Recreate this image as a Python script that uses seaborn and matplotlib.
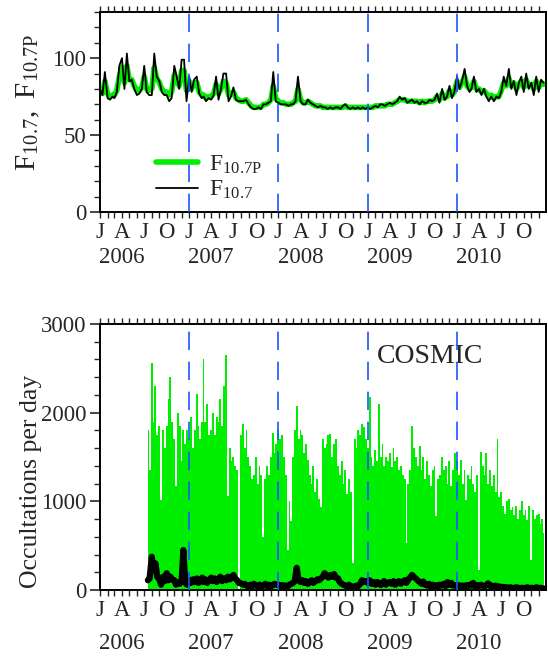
import numpy as np
import pandas as pd
import matplotlib
matplotlib.use("Agg")
import matplotlib.pyplot as plt
import matplotlib.dates as mdates
import matplotlib.transforms as mtransforms
from matplotlib.ticker import MultipleLocator, FuncFormatter
import seaborn as sns

# ---------------- data ----------------
years = [2006, 2007, 2008, 2009, 2010]
month_letters = {1: "J", 4: "A", 7: "J", 10: "O"}
storm_years = [2007, 2008, 2009, 2010]   # dashed lines at 1 January

# F10.7 (three samples per month: days 1, 11, 21), 2006-2010
f107 = [
    80, 76, 91, 74, 73, 75, 74, 78, 95, 100, 80, 103, 85, 86, 80, 76, 77, 80,
    95, 78, 76, 76, 103, 88, 85, 78, 76, 76, 72, 74, 95, 88, 80, 99, 99, 72,
    88, 78, 86, 88, 77, 74, 75, 72, 74, 73, 76, 88, 73, 80, 90, 90, 72, 75,
    81, 73, 72, 72, 72, 73, 70, 68, 67, 67, 68, 67, 70, 70, 71, 72, 91, 72,
    71, 70, 70, 70, 69, 70, 70, 72, 88, 72, 70, 70, 73, 71, 70, 69, 68, 69,
    68, 68, 67, 68, 67, 68, 68, 67, 69, 70, 68, 67, 68, 67, 68, 67, 68, 67,
    68, 67, 68, 69, 68, 70, 70, 69, 70, 71, 70, 71, 72, 75, 73, 74, 71, 72,
    73, 71, 72, 70, 72, 71, 71, 73, 72, 73, 77, 71, 80, 73, 75, 82, 74, 78,
    88, 80, 85, 93, 82, 78, 80, 88, 78, 80, 76, 80, 75, 72, 75, 72, 75, 74,
    78, 88, 82, 93, 80, 85, 76, 84, 88, 78, 90, 80, 84, 76, 88, 78, 86, 84,
]
f107p = [
    80, 77, 85, 77, 75, 76, 76, 79, 88, 94, 84, 95, 86, 86, 82, 79, 79, 81,
    88, 80, 79, 80, 94, 87, 84, 80, 78, 78, 76, 78, 89, 86, 82, 92, 92, 79,
    85, 80, 84, 84, 78, 76, 76, 74, 75, 75, 77, 83, 77, 80, 85, 84, 76, 77,
    78, 74, 73, 72, 72, 73, 71, 69, 68, 68, 68, 68, 70, 70, 71, 73, 82, 74,
    72, 71, 71, 70, 70, 70, 71, 72, 80, 73, 71, 71, 72, 71, 70, 69, 69, 69,
    68, 68, 68, 68, 68, 68, 68, 68, 68, 69, 68, 68, 68, 68, 68, 68, 68, 68,
    68, 68, 68, 69, 69, 69, 69, 69, 70, 70, 70, 71, 72, 73, 73, 73, 72, 72,
    72, 72, 72, 71, 72, 71, 72, 72, 72, 73, 75, 73, 77, 74, 75, 79, 76, 78,
    85, 81, 84, 88, 82, 80, 81, 85, 80, 80, 78, 79, 77, 75, 76, 74, 75, 75,
    79, 84, 82, 87, 82, 84, 80, 83, 85, 81, 86, 82, 83, 80, 85, 81, 84, 83,
]

# COSMIC occultations per day (four samples per month: days 1, 8, 16, 23),
# July 2006 - December 2010
occ_total = [
    np.nan, np.nan, 1800, 1350, 2560, 1900, 2300, 1750, 1850, 1020, 1800, 1600,
    1850, 2150, 2400, 1900, 1700, 1170, 2000, 1850, 1450, 1800, 1650, 1800,
    1700, 1950, 1600, 1800, 2210, 1850, 1700, 1900, 2600, 1900, 2100, 1750,
    1800, 2000, 1750, 1950, 1900, 2150, 1850, 2300, 2650, 1060, 1600, 1450,
    1500, 1400, 1350, 0, 1750, 1870, 1600, 1800, 1500, 1400, 1250, 1300,
    1500, 1200, 1400, 1300, 600, 1250, 1400, 1300, 1500, 1770, 1550, 1650,
    1800, 1700, 1750, 1500, 1300, 450, 1000, 780, 1500, 1800, 2080, 1700,
    1800, 1750, 1550, 1650, 1470, 1300, 1200, 1400, 1100, 1250, 1030, 940,
    1700, 1600, 1650, 1750, 1760, 1500, 1650, 1700, 1400, 1300, 1450, 1200,
    1350, 1080, 1250, 1100, 310, 1700, 1600, 1800, 1750, 1875, 1840, 1700,
    1600, 2180, 1500, 1400, 1580, 1450, 2100, 1500, 1650, 1400, 1500, 1450,
    1550, 1390, 1600, 1450, 1500, 1350, 1400, 1300, 1250, 525, 1200, 1350,
    1850, 1600, 1500, 1400, 1620, 1350, 1500, 1250, 1450, 1300, 1170, 1350,
    1400, 830, 1250, 1300, 1500, 1350, 1400, 1200, 1450, 1170, 1350, 1540,
    1450, 1300, 1470, 1200, 1350, 1015, 1300, 1250, 1400, 1200, 1100, 1300,
    225, 1560, 1400, 1300, 1540, 1200, 1350, 1170, 1300, 1100, 1700, 1050,
    1100, 950, 860, 1000, 1030, 900, 940, 850, 950, 800, 900, 1000,
    850, 900, 790, 950, 340, 900, 800, 850, 860, 750, 800, 640,
]
occ_subset = [
    np.nan, np.nan, 110, 130, 375, 230, 300, 150, 120, 60, 150, 100,
    190, 110, 150, 120, 110, 60, 90, 70, 100, 450, 80, 60,
    110, 80, 120, 90, 130, 80, 100, 140, 90, 120, 80, 110,
    140, 100, 130, 90, 120, 150, 100, 130, 110, 150, 120, 140,
    170, 130, 110, 80, 75, 60, 70, 50, 40, 60, 45, 70,
    50, 40, 60, 35, 50, 70, 45, 60, 40, 55, 70, 60,
    60, 40, 55, 45, 50, 40, 60, 70, 80, 100, 250, 110,
    90, 110, 80, 100, 70, 90, 110, 80, 100, 120, 110, 130,
    150, 190, 160, 140, 170, 150, 180, 140, 130, 90, 70, 60,
    50, 40, 60, 35, 40, 30, 50, 45, 70, 110, 90, 100,
    80, 110, 70, 90, 60, 90, 80, 55, 70, 100, 60, 80,
    90, 70, 100, 60, 80, 100, 70, 90, 110, 80, 120, 140,
    170, 150, 130, 110, 90, 70, 95, 60, 50, 70, 40, 60,
    45, 55, 40, 60, 50, 70, 45, 90, 60, 80, 50, 55,
    45, 55, 40, 50, 40, 55, 45, 60, 50, 80, 40, 55,
    45, 60, 50, 40, 55, 75, 45, 50, 40, 50, 35, 40,
    30, 35, 25, 30, 25, 30, 20, 25, 30, 25, 20, 25,
    20, 25, 30, 20, 25, 20, 25, 30, 20, 25, 20, 15,
]

top_dates = [pd.Timestamp(y, m, d) for y in years for m in range(1, 13) for d in (1, 11, 21)]
occ_months = pd.date_range("2006-07-01", "2010-12-01", freq="MS")
occ_dates = [mo + pd.Timedelta(days=k) for mo in occ_months for k in (0, 7, 15, 22)]

df_top = pd.DataFrame({"date": top_dates, "F107": f107, "F107P": f107p})
df_occ = pd.DataFrame({"date": occ_dates, "total": occ_total, "subset": occ_subset})

# ---------------- style ----------------
sns.set_theme(style="ticks")
plt.rcParams["font.family"] = ["Liberation Serif", "DejaVu Serif"]
plt.rcParams["mathtext.fontset"] = "stix"
plt.rcParams["axes.linewidth"] = 1.4

GREEN = "#00ee00"
BLUE = "#1a56ff"
FS = 16.5

fig = plt.figure(figsize=(5.48, 6.56), dpi=100)
ax1 = fig.add_axes([100 / 548, 1 - 212 / 656, 446 / 548, 200 / 656])
ax2 = fig.add_axes([100 / 548, 1 - 590 / 656, 446 / 548, 266 / 656])

# top panel
sns.lineplot(data=df_top, x="date", y="F107P", color=GREEN, lw=4, ax=ax1,
             label=r"F$_{\mathregular{10.7P}}$")
sns.lineplot(data=df_top, x="date", y="F107", color="black", lw=1.3, ax=ax1,
             label=r"F$_{\mathregular{10.7}}$")
ax1.set_ylim(0, 130)
ax1.yaxis.set_major_locator(MultipleLocator(50))
ax1.yaxis.set_minor_locator(MultipleLocator(10))
ax1.set_ylabel(r"F$_{\mathregular{10.7}}$,$\;\;$F$_{\mathregular{10.7P}}$", fontsize=21)
ax1.yaxis.set_label_coords(-0.13, 0.55)
leg = ax1.legend(loc="lower left", bbox_to_anchor=(0.088, -0.03), frameon=False,
                 fontsize=17, handlelength=1.8, labelspacing=0.15, handletextpad=0.45,
                 borderpad=0.2)

# bottom panel
ax2.fill_between(df_occ["date"], 0, df_occ["total"], color=GREEN, lw=0, step="mid")
sns.lineplot(data=df_occ, x="date", y="subset", color="black", lw=4.5, ax=ax2)
ax2.set_ylim(0, 3000)
ax2.yaxis.set_major_locator(MultipleLocator(1000))
ax2.yaxis.set_minor_locator(MultipleLocator(200))
ax2.set_ylabel("Occultations per day", fontsize=18.5)
ax2.yaxis.set_label_coords(-0.13, 0.41)
ax2.text(0.74, 0.876, "COSMIC", transform=ax2.transAxes, fontsize=20,
         ha="center", va="center")

for ax, ypos in ((ax1, -0.225), (ax2, -0.2)):
    ax.set_xlim(pd.Timestamp("2006-01-01"), pd.Timestamp("2010-12-31"))
    for y in storm_years:
        ax.axvline(pd.Timestamp(y, 1, 1), color=BLUE, lw=1.2, ls=(0, (11, 7)), zorder=5)
    ax.xaxis.set_major_locator(mdates.MonthLocator(bymonth=[1, 4, 7, 10]))
    ax.xaxis.set_minor_locator(mdates.MonthLocator())
    ax.xaxis.set_major_formatter(FuncFormatter(
        lambda v, p: month_letters.get(mdates.num2date(v).month, "")))
    ax.tick_params(axis="x", which="both", direction="out", top=True, length=4,
                   width=1, labelsize=FS, pad=3)
    ax.tick_params(axis="y", which="major", direction="out", length=7, width=1.2,
                   labelsize=FS, pad=3)
    ax.tick_params(axis="y", which="minor", direction="out", length=4, width=1)
    ax.set_xlabel("")
    trans = mtransforms.blended_transform_factory(ax.transData, ax.transAxes)
    for y in years:
        ax.text(pd.Timestamp(y, 4, 1), ypos, str(y), transform=trans,
                ha="center", va="center", fontsize=FS)
    for sp in ax.spines.values():
        sp.set_color("black")

fig.savefig("out.png", dpi=100)
